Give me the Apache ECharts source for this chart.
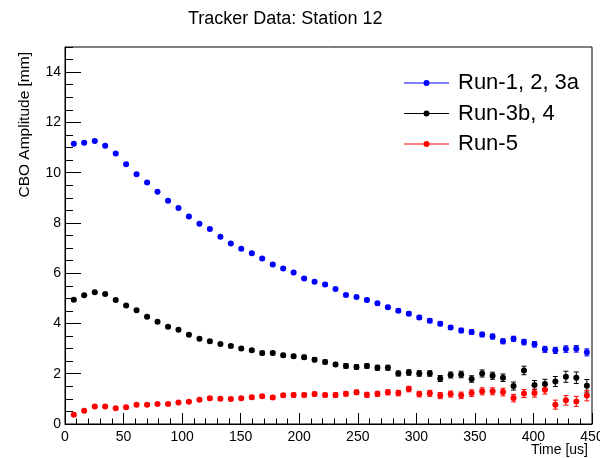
<!DOCTYPE html>
<html>
<head>
<meta charset="utf-8">
<script src="https://cdn.jsdelivr.net/npm/echarts@6/dist/echarts.min.js"></script>
<style>html,body{margin:0;padding:0;background:#fff}#c{width:600px;height:458px}</style>
</head>
<body>
<div id="c"></div>
<script>
const timeUs = [7.5,16.4,25.4,34.3,43.3,52.2,61.1,70.1,79.0,88.0,
  96.9,105.8,114.8,123.7,132.7,141.6,150.5,159.5,168.4,177.4,
  186.3,195.2,204.2,213.1,222.1,231.0,239.9,248.9,257.8,266.8,
  275.7,284.6,293.6,302.5,311.5,320.4,329.3,338.3,347.2,356.2,
  365.1,374.0,383.0,391.9,400.9,409.8,418.7,427.7,436.6,445.6];

const run123a = [11.15,11.19,11.26,11.07,10.76,10.33,9.94,9.61,9.24,8.88,
  8.59,8.26,7.97,7.76,7.45,7.18,6.97,6.79,6.58,6.35,
  6.19,6.03,5.79,5.66,5.55,5.37,5.13,5.05,4.93,4.80,
  4.65,4.51,4.39,4.24,4.11,3.99,3.84,3.72,3.66,3.56,
  3.48,3.29,3.39,3.26,3.17,2.97,2.93,2.98,2.99,2.85];
const run123aErr = [0.03,0.03,0.03,0.03,0.03,0.03,0.03,0.03,0.03,0.04,
  0.04,0.04,0.04,0.04,0.04,0.04,0.05,0.05,0.05,0.05,
  0.05,0.05,0.05,0.06,0.06,0.06,0.06,0.06,0.07,0.07,
  0.07,0.07,0.07,0.08,0.08,0.08,0.08,0.09,0.09,0.09,
  0.10,0.10,0.10,0.11,0.11,0.12,0.12,0.13,0.13,0.14];

const run3b4 = [4.94,5.12,5.24,5.17,4.93,4.71,4.53,4.27,4.07,3.87,
  3.75,3.55,3.39,3.29,3.18,3.10,3.00,2.93,2.82,2.82,
  2.74,2.70,2.66,2.56,2.47,2.37,2.31,2.27,2.31,2.24,
  2.24,2.01,2.05,2.01,2.01,1.81,1.95,1.97,1.79,2.01,
  1.92,1.84,1.51,2.13,1.55,1.59,1.69,1.88,1.84,1.52];
const run3b4Err = [0.04,0.04,0.04,0.04,0.04,0.04,0.04,0.05,0.05,0.05,
  0.05,0.05,0.05,0.06,0.06,0.06,0.06,0.06,0.07,0.07,
  0.07,0.07,0.08,0.08,0.08,0.08,0.09,0.09,0.09,0.10,
  0.10,0.10,0.11,0.11,0.11,0.12,0.12,0.13,0.13,0.14,
  0.14,0.15,0.16,0.17,0.18,0.19,0.20,0.22,0.23,0.25];

const run5 = [0.37,0.53,0.70,0.70,0.63,0.67,0.77,0.77,0.80,0.80,
  0.86,0.89,0.96,1.02,1.00,0.99,1.02,1.06,1.10,1.05,
  1.14,1.15,1.15,1.19,1.15,1.15,1.20,1.26,1.16,1.20,
  1.26,1.23,1.39,1.19,1.22,1.13,1.19,1.14,1.23,1.30,
  1.30,1.27,1.03,1.21,1.23,1.36,0.77,0.94,0.90,1.13];
const run5Err = [0.04,0.04,0.04,0.04,0.04,0.04,0.05,0.05,0.05,0.05,
  0.05,0.05,0.06,0.06,0.06,0.06,0.06,0.07,0.07,0.07,
  0.07,0.08,0.08,0.08,0.08,0.09,0.09,0.09,0.10,0.10,
  0.10,0.11,0.11,0.11,0.12,0.12,0.12,0.13,0.13,0.14,
  0.14,0.15,0.15,0.16,0.16,0.17,0.18,0.19,0.20,0.21];

const seriesNames = ['Run-1, 2, 3a', 'Run-3b, 4', 'Run-5'];
const seriesColors = ['#0000ff', '#000000', '#ff0000'];
const xTicks = {min: 0, max: 450, interval: 50};
const yTicks = {min: 0, max: 15, interval: 2};

const FONT = '"Liberation Sans", Arial, Helvetica, sans-serif';
const values = [run123a, run3b4, run5];
const errs = [run123aErr, run3b4Err, run5Err];

function errorBars(name, color, vals, err) {
  return {
    type: 'custom', name: name + ' err', xAxisIndex: 0, yAxisIndex: 0, z: 2,
    silent: true,
    data: timeUs.map((t, i) => [t, vals[i], err[i]]),
    renderItem: function (params, api) {
      const x = api.value(0), y = api.value(1), e = api.value(2);
      const top = api.coord([x, y + e]);
      const bot = api.coord([x, y - e]);
      const cw = 2.5;
      const st = {stroke: color, lineWidth: 1};
      return {type: 'group', children: [
        {type: 'line', shape: {x1: top[0], y1: top[1], x2: bot[0], y2: bot[1]}, style: st},
        {type: 'line', shape: {x1: top[0]-cw, y1: top[1], x2: top[0]+cw, y2: top[1]}, style: st},
        {type: 'line', shape: {x1: bot[0]-cw, y1: bot[1], x2: bot[0]+cw, y2: bot[1]}, style: st}
      ]};
    }
  };
}

const legendIcon = 'path://M0,3.5L19.5,3.5L19.5,4.5L0,4.5Z M25.5,3.5L45,3.5L45,4.5L25.5,4.5Z M19.5,4A3,3 0 1,1 25.5,4A3,3 0 1,1 19.5,4Z';

const series = [];
seriesNames.forEach((n, k) => {
  series.push(errorBars(n, seriesColors[k], values[k], errs[k]));
  series.push({
    type: 'scatter', name: n, xAxisIndex: 0, yAxisIndex: 0, z: 3,
    symbol: 'circle', symbolSize: 6,
    itemStyle: {color: seriesColors[k], opacity: 1},
    data: timeUs.map((t, i) => [t, values[k][i]])
  });
});

const chart = echarts.init(document.getElementById('c'), null, {renderer: 'canvas'});
chart.setOption({
  animation: false,
  backgroundColor: '#ffffff',
  title: {
    text: 'Tracker Data: Station 12', left: 183, top: 5,
    textStyle: {fontFamily: FONT, fontSize: 18, fontWeight: 'normal', color: '#000'}
  },
  legend: {
    orient: 'vertical', left: 404, top: 72, padding: 0, itemWidth: 45, itemHeight: 8, itemGap: 8.5,
    selectedMode: false,
    textStyle: {fontFamily: FONT, fontSize: 22, color: '#000', padding: [0,0,0,4]},
    data: seriesNames.map((n, k) => ({name: n, icon: legendIcon,
      itemStyle: {color: seriesColors[k], borderWidth: 0, opacity: 1}}))
  },
  grid: {left: 65, right: 8, top: 47, bottom: 34, containLabel: false, outerBoundsMode: 'none',
    show: true, borderColor: '#000', borderWidth: 1, backgroundColor: 'transparent'},
  xAxis: [{
    type: 'value', min: xTicks.min, max: xTicks.max, interval: xTicks.interval,
    name: 'Time [us]', nameLocation: 'end', nameGap: -4, nameMoveOverlap: false,
    nameTextStyle: {fontFamily: FONT, fontSize: 14, color: '#000', align: 'right', verticalAlign: 'top', padding: [19,0,0,0]},
    axisLine: {show: true, lineStyle: {color: '#000', width: 1}},
    axisTick: {show: true, inside: true, length: 11, lineStyle: {color: '#000'}},
    minorTick: {show: true, splitNumber: 5, length: 5.5, lineStyle: {color: '#000'}},
    axisLabel: {fontFamily: FONT, fontSize: 14, color: '#000', margin: 6},
    splitLine: {show: false}, minorSplitLine: {show: false}
  }],
  yAxis: [{
    type: 'value', min: yTicks.min, max: yTicks.max, interval: yTicks.interval, position: 'left',
    name: 'CBO Amplitude [mm]', nameLocation: 'end', nameRotate: 90, nameGap: -5, nameMoveOverlap: false,
    nameTextStyle: {fontFamily: FONT, fontSize: 15.5, color: '#000', align: 'right', verticalAlign: 'bottom', padding: [0,0,32,0]},
    axisLine: {show: true, lineStyle: {color: '#000', width: 1}},
    axisTick: {show: true, inside: true, length: 16, lineStyle: {color: '#000'}},
    axisLabel: {fontFamily: FONT, fontSize: 14, color: '#000', margin: 4, showMaxLabel: false},
    splitLine: {show: false}
  }, {
    type: 'value', min: yTicks.min, max: yTicks.max, interval: 0.5, position: 'left', offset: 0,
    axisLine: {show: false},
    axisTick: {show: true, inside: true, length: 8, lineStyle: {color: '#000'}},
    axisLabel: {show: false},
    splitLine: {show: false}
  }],
  series: series
});
</script>
</body>
</html>
